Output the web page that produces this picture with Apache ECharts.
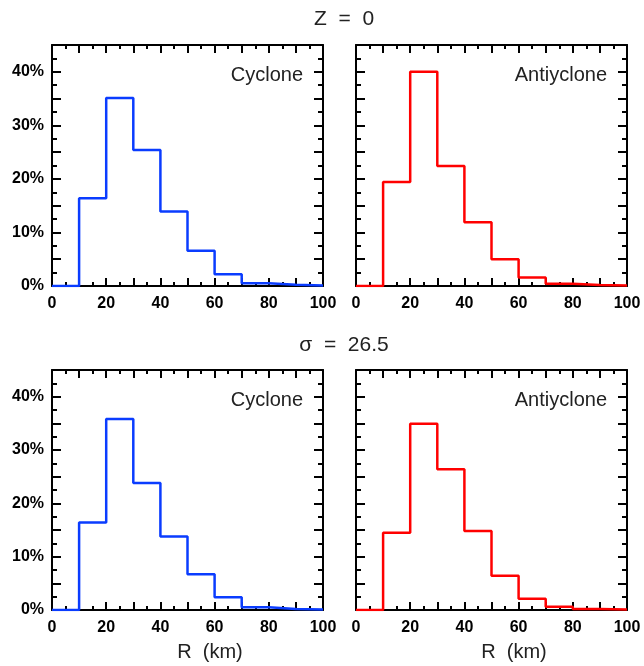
<!DOCTYPE html>
<html>
<head>
<meta charset="utf-8">
<script src="https://cdn.jsdelivr.net/npm/echarts@6/dist/echarts.min.js"></script>
<style>html,body{margin:0;padding:0;background:#fff;}#c{width:644px;height:666px;}</style>
</head>
<body>
<div id="c"></div>
<script>
// Bin edges (km) and histogram percentages
const binEdges = [0, 10, 20, 30, 40, 50, 60, 70, 80, 90, 100];
const z0Cyclone      = [0, 16.4, 35.1, 25.4, 13.9, 6.6, 2.2, 0.5, 0.25, 0.1];
const z0Anticyclone  = [0, 19.4, 40.0, 22.4, 11.9, 5.0, 1.6, 0.4, 0.2, 0.1];
const sigCyclone     = [0, 16.4, 35.8, 23.8, 13.8, 6.7, 2.4, 0.5, 0.2, 0.1];
const sigAnticyclone = [0, 14.5, 34.9, 26.4, 14.8, 6.4, 2.1, 0.6, 0.2, 0.1];
const rowTitles = ['Z  =  0', 'σ  =  26.5'];
const panelLabels = ['Cyclone', 'Antiyclone', 'Cyclone', 'Antiyclone'];
const xAxisTitle = 'R  (km)';
const xTickLabels = [0, 20, 40, 60, 80, 100];
const yTickLabels = [0, 10, 20, 30, 40];

const panels = [
  {vals: z0Cyclone, color: '#0a3cff', left: 52, top: 45, height: 241, ylab: true},
  {vals: z0Anticyclone, color: '#ff0000', left: 356, top: 45, height: 241, ylab: false},
  {vals: sigCyclone, color: '#0a3cff', left: 52, top: 370, height: 240, ylab: true},
  {vals: sigAnticyclone, color: '#ff0000', left: 356, top: 370, height: 240, ylab: false}
];

const W = 271;
const FONT = 'Liberation Sans';
const grids = [], xAxes = [], yAxes = [], series = [], graphics = [];
const lineStyle = {color: '#000', width: 2};
const tickFont = {color: '#000', fontFamily: FONT, fontWeight: 'bold', fontSize: 16};

panels.forEach((p, i) => {
  grids.push({left: p.left, top: p.top, width: W, height: p.height});
  ['bottom', 'top'].forEach((pos, k) => {
    xAxes.push({
      type: 'value', gridIndex: i, position: pos, min: 0, max: 100, interval: 10,
      axisLine: {show: true, onZero: false, lineStyle},
      axisTick: {show: true, inside: true, length: 8, lineStyle},
      minorTick: {show: true, splitNumber: 2, length: 4, lineStyle: {color: '#000', width: 2}},
      splitLine: {show: false},
      axisLabel: {show: k === 0, margin: 10, ...tickFont,
        formatter: v => xTickLabels.includes(v) ? String(v) : ''}
    });
  });
  ['left', 'right'].forEach((pos, k) => {
    yAxes.push({
      type: 'value', gridIndex: i, position: pos, min: 0, max: 45, interval: 5,
      axisLine: {show: true, onZero: false, lineStyle},
      axisTick: {show: true, inside: true, length: 9, lineStyle},
      minorTick: {show: true, splitNumber: 2, length: 5, lineStyle: {color: '#000', width: 2}},
      splitLine: {show: false},
      axisLabel: {show: k === 0 && p.ylab, margin: 8, ...tickFont,
        formatter: v => yTickLabels.includes(v) ? v + '%' : ''}
    });
  });
  const data = p.vals.map((v, j) => [binEdges[j], v]);
  data.push([binEdges[binEdges.length - 1], p.vals[p.vals.length - 1]]);
  series.push({
    type: 'line', step: 'end', xAxisIndex: i * 2, yAxisIndex: i * 2,
    data, symbol: 'none', lineStyle: {color: p.color, width: 2.5}, silent: true, z: 1
  });
  graphics.push({
    type: 'text', x: p.left + W - 20, y: p.top + 30,
    style: {text: panelLabels[i], fill: '#222', font: '20px "' + FONT + '"',
      align: 'right', verticalAlign: 'middle'}
  });
  if (i >= 2) {
    graphics.push({
      type: 'text', x: p.left + 158, y: 652,
      style: {text: xAxisTitle, fill: '#222', font: '20px "' + FONT + '"',
        align: 'center', verticalAlign: 'middle'}
    });
  }
});

graphics.push({type: 'text', x: 344, y: 19,
  style: {text: rowTitles[0], fill: '#222', font: '21px "' + FONT + '"', align: 'center', verticalAlign: 'middle'}});
graphics.push({type: 'text', x: 344, y: 345,
  style: {text: rowTitles[1], fill: '#222', font: '21px "' + FONT + '"', align: 'center', verticalAlign: 'middle'}});

const chart = echarts.init(document.getElementById('c'), null, {renderer: 'canvas'});
chart.setOption({
  animation: false,
  backgroundColor: '#fff',
  grid: grids,
  xAxis: xAxes,
  yAxis: yAxes,
  series,
  graphic: graphics
});
</script>
</body>
</html>
